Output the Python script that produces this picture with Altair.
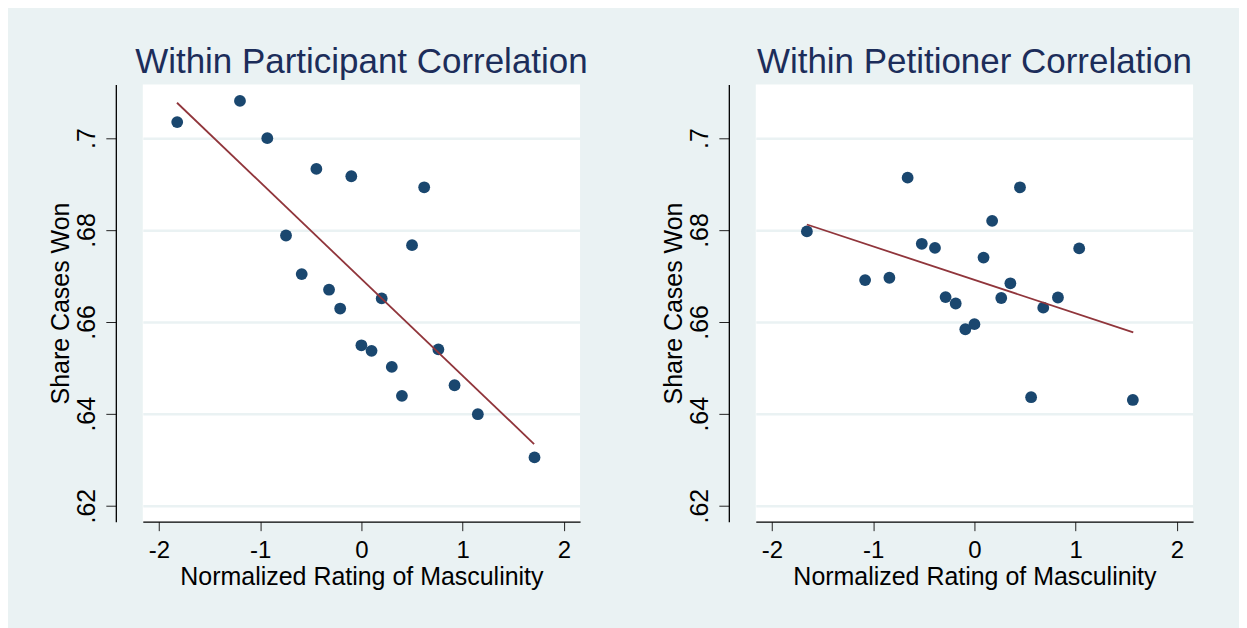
import altair as alt
import pandas as pd

# Within Participant Correlation
part_x = [-1.82, -1.20, -0.93, -0.445, -0.10, 0.62, -0.745, 0.50, -0.59, -0.32,
          -0.21, 0.20, 0.00, 0.10, 0.30, 0.40, 0.76, 0.92, 1.15, 1.71]
part_y = [0.7035, 0.7081, 0.7000, 0.6933, 0.6917, 0.6893, 0.6788, 0.6767, 0.6704, 0.6670,
          0.6629, 0.6651, 0.6549, 0.6537, 0.6502, 0.6439, 0.6540, 0.6462, 0.6399, 0.6305]
# fitted line (linear fit), read at its two ends
part_fit_x = [-1.822, 1.706]
part_fit_y = [0.7077, 0.6334]

# Within Petitioner Correlation
pet_x = [-1.655, -0.66, 0.45, 0.175, -0.52, -0.39, 0.09, 1.035, -1.08, -0.84,
         0.355, -0.285, -0.185, 0.265, 0.825, 0.68, -0.09, 0.00, 0.56, 1.565]
pet_y = [0.6797, 0.6914, 0.6893, 0.6820, 0.6770, 0.6761, 0.6740, 0.6760, 0.6691, 0.6696,
         0.6684, 0.6654, 0.6640, 0.6652, 0.6653, 0.6631, 0.6584, 0.6595, 0.6436, 0.6430]
pet_fit_x = [-1.655, 1.569]
pet_fit_y = [0.6812, 0.6577]

titles = ["Within Participant Correlation", "Within Petitioner Correlation"]
x_title = "Normalized Rating of Masculinity"
y_title = "Share Cases Won"
x_ticks = [-2, -1, 0, 1, 2]
y_ticks = [0.62, 0.64, 0.66, 0.68, 0.70]

BG = "#EAF2F3"
NAVY = "#1A476F"
MAROON = "#90353B"
TITLE_COLOR = "#1C2D5A"
FONT = "Liberation Sans"


def panel(xs, ys, fx, fy, title):
    df = pd.DataFrame({"x": xs, "y": ys})
    fit = pd.DataFrame({"x": fx, "y": fy})
    xenc = alt.X(
        "x:Q",
        scale=alt.Scale(domain=[-2.16, 2.16], nice=False, zero=False),
        axis=alt.Axis(
            values=x_ticks, title=x_title, grid=False,
            labelExpr="'' + datum.value",
            tickSize=9, labelPadding=8, labelFontSize=24,
            titleFontSize=25, titlePadding=2,
        ),
    )
    yenc = alt.Y(
        "y:Q",
        scale=alt.Scale(domain=[0.6165, 0.7117], nice=False, zero=False),
        axis=alt.Axis(
            values=y_ticks, title=y_title, grid=True, gridColor=BG, gridWidth=2.5,
            labelExpr="replace('' + datum.value, '0.', '.')",
            offset=27, tickSize=10, labelAngle=-90, labelAlign="center",
            labelBaseline="alphabetic", labelPadding=11, labelFontSize=25,
            titleFontSize=25, titlePadding=1,
        ),
    )
    pts = alt.Chart(df).mark_circle(size=140, color=NAVY, opacity=1).encode(x=xenc, y=yenc)
    line = (
        alt.Chart(fit)
        .mark_line(color=MAROON, strokeWidth=1.8)
        .encode(x="x:Q", y="y:Q")
    )
    return alt.layer(pts, line).properties(
        width=438,
        height=438,
        title=alt.TitleParams(
            text=title, fontSize=35, font=FONT, color=TITLE_COLOR,
            fontWeight="normal", anchor="middle", frame="group",
            baseline="bottom", offset=-31,
        ),
    )


chart = (
    alt.hconcat(
        panel(part_x, part_y, part_fit_x, part_fit_y, titles[0]),
        panel(pet_x, pet_y, pet_fit_x, pet_fit_y, titles[1]),
        spacing=74,
    )
    .properties(padding={"left": 41, "top": 37, "right": 46, "bottom": 56})
    .configure(background=BG)
    .configure_view(fill="white", stroke=None)
    .configure_axis(
        labelFont=FONT, titleFont=FONT, labelColor="black", titleColor="black",
        titleFontWeight="normal", domainColor="black", domainWidth=1.3,
        tickColor="#222222", tickWidth=1,
    )
)

chart.save("out.html", embed_options={"renderer": "svg", "actions": False})
